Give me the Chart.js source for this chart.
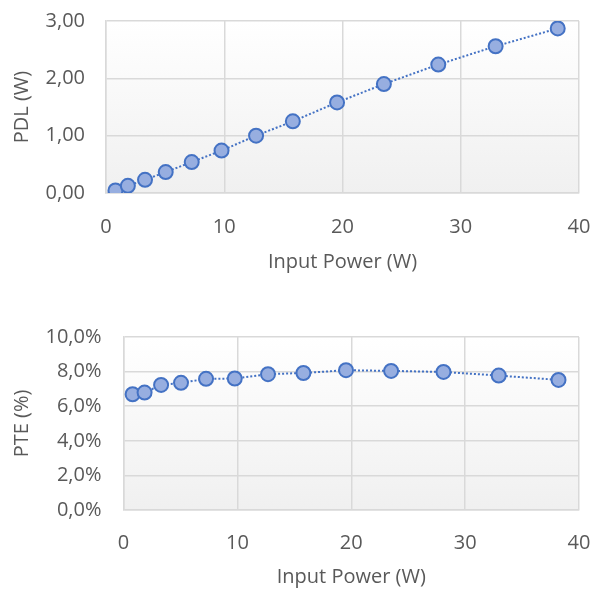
<!DOCTYPE html>
<html lang="en">
<head>
  <meta charset="UTF-8">
  <title>PDL and PTE vs Input Power</title>
  <style>
    body {
      margin: 0;
      background: #fff;
      font-family: "Open Sans", sans-serif;
    }
    .box {
      position: absolute;
      left: 0;
      width: 593px;
    }
    #topBox { top: 0; height: 295px; }
    #bottomBox { top: 295px; height: 294px; }
  </style>
</head>
<body>
  <div class="box" id="topBox"><canvas id="pdlChart"></canvas></div>
  <div class="box" id="bottomBox"><canvas id="pteChart"></canvas></div>

  <script src="https://cdn.jsdelivr.net/npm/chart.js/dist/chart.umd.min.js"></script>
  <script>
    // data
    const inputPower = [0.8, 1.85, 3.3, 5.05, 7.25, 9.77, 12.69, 15.8, 19.54, 23.5, 28.1, 32.95, 38.2];
    const pdlWatts   = [0.045, 0.125, 0.23, 0.365, 0.54, 0.74, 1.0, 1.25, 1.58, 1.9, 2.24, 2.56, 2.87];
    const ptePercent = [6.69, 6.79, 7.23, 7.35, 7.58, 7.6, 7.85, 7.92, 8.08, 8.04, 7.98, 7.77, 7.52];

    const xTickLabels   = ['0', '10', '20', '30', '40'];
    const pdlTickLabels = ['0,00', '1,00', '2,00', '3,00'];
    const pteTickLabels = ['0,0%', '2,0%', '4,0%', '6,0%', '8,0%', '10,0%'];

    const TEXT = '#595959';
    const GRID = '#d9d9d9';
    const BLUE = '#4472c4';
    const FONT = { family: '"Open Sans", sans-serif', size: 20 };

    // soft gradient behind the plot area, like the office chart style
    const plotBg = {
      id: 'plotBg',
      beforeDraw(chart) {
        const { ctx, chartArea: a } = chart;
        const g = ctx.createLinearGradient(0, a.top, 0, a.bottom);
        g.addColorStop(0, '#ffffff');
        g.addColorStop(1, '#f0f0f0');
        ctx.save();
        ctx.fillStyle = g;
        ctx.fillRect(a.left, a.top, a.right - a.left, a.bottom - a.top);
        ctx.restore();
      }
    };

    function makePoints(ys) {
      return inputPower.map((x, i) => ({ x: x, y: ys[i] }));
    }

    function buildChart(canvasId, ys, yMax, yStep, yLabels, yTitle, dims) {
      return new Chart(document.getElementById(canvasId), {
        type: 'scatter',
        data: {
          datasets: [{
            data: makePoints(ys),
            showLine: true,
            borderColor: BLUE,
            borderWidth: 2,
            borderDash: [2, 2],
            pointRadius: 7,
            pointHoverRadius: 7,
            pointBackgroundColor: '#97aee0',
            pointBorderColor: BLUE,
            pointBorderWidth: 2
          }]
        },
        options: {
          responsive: true,
          maintainAspectRatio: false,
          animation: false,
          layout: { padding: dims.pad },
          plugins: { legend: { display: false }, tooltip: { enabled: false } },
          scales: {
            x: {
              type: 'linear',
              min: 0,
              max: 40,
              ticks: {
                stepSize: 10,
                color: TEXT,
                font: FONT,
                padding: 0,
                maxRotation: 0,
                callback: (v) => xTickLabels[Math.round(v / 10)]
              },
              // the gap to the labels is made with an invisible tick mark
              grid: { color: GRID, lineWidth: 1.5, tickLength: dims.xGap, tickColor: 'rgba(0,0,0,0)' },
              border: { color: GRID, width: 1.5 },
              title: {
                display: true,
                text: 'Input Power (W)',
                color: TEXT,
                font: FONT,
                padding: { top: 0, bottom: dims.xTitlePad }
              },
              afterFit: (s) => { s.height = dims.xHeight; }
            },
            y: {
              min: 0,
              max: yMax,
              ticks: {
                stepSize: yStep,
                color: TEXT,
                font: FONT,
                padding: 0,
                callback: (v) => yLabels[Math.round(v / yStep)]
              },
              grid: { color: GRID, lineWidth: 1.5, tickLength: dims.yGap, tickColor: 'rgba(0,0,0,0)' },
              border: { color: GRID, width: 1.5 },
              title: {
                display: true,
                text: yTitle,
                color: TEXT,
                font: FONT,
                padding: { top: 10, bottom: 0 }
              },
              afterFit: (s) => { s.width = dims.yWidth; }
            }
          }
        },
        plugins: [plotBg]
      });
    }

    buildChart('pdlChart', pdlWatts, 3, 1, pdlTickLabels, 'PDL (W)', {
      pad: { top: 21, right: 14, bottom: 0, left: 0 },
      xHeight: 102,
      xGap: 22,
      xTitlePad: 21,
      yWidth: 106,
      yGap: 21
    });

    buildChart('pteChart', ptePercent, 10, 2, pteTickLabels, 'PTE (%)', {
      pad: { top: 42, right: 14, bottom: 0, left: 0 },
      xHeight: 79,
      xGap: 21,
      xTitlePad: 0,
      yWidth: 123.5,
      yGap: 22
    });
  </script>
</body>
</html>
